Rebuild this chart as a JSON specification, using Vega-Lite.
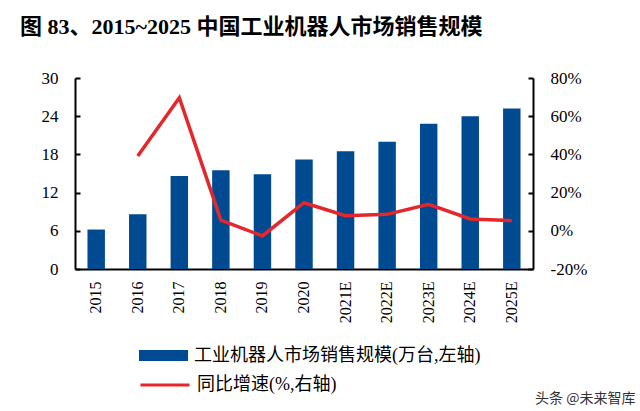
{
  "$schema": "https://vega.github.io/schema/vega-lite/v6.json",
  "autosize": {"type": "none"},
  "width": 458,
  "height": 191,
  "padding": {"left": 75, "top": 78, "right": 107, "bottom": 142},
  "background": "white",
  "title": {
    "text": "图 83、2015~2025 中国工业机器人市场销售规模",
    "anchor": "start",
    "frame": "group",
    "dx": -55,
    "offset": 30,
    "font": "Liberation Serif, Noto Sans CJK SC",
    "fontSize": 22,
    "fontWeight": "bold",
    "color": "#000000"
  },
  "data": {
    "values": [
      {"year": "2015", "sales": 6.2, "growth": null},
      {"year": "2016", "sales": 8.6, "growth": 39.2},
      {"year": "2017", "sales": 14.6, "growth": 69.7},
      {"year": "2018", "sales": 15.5, "growth": 5.6},
      {"year": "2019", "sales": 14.9, "growth": -2.7},
      {"year": "2020", "sales": 17.2, "growth": 14.7},
      {"year": "2021E", "sales": 18.5, "growth": 7.9},
      {"year": "2022E", "sales": 20.0, "growth": 8.6},
      {"year": "2023E", "sales": 22.8, "growth": 13.9},
      {"year": "2024E", "sales": 24.0, "growth": 6.2},
      {"year": "2025E", "sales": 25.2, "growth": 5.3}
    ]
  },
  "encoding": {
    "x": {
      "field": "year",
      "type": "ordinal",
      "sort": null,
      "scale": {"paddingInner": 0.58, "paddingOuter": 0.3},
      "axis": {
        "title": "头条 @未来智库",
        "titleAnchor": "end",
        "titleAlign": "right",
        "titleX": 560,
        "titleY": 122,
        "titleFont": "Noto Sans CJK SC",
        "titleFontSize": 14,
        "titleFontWeight": "normal",
        "titleColor": "#333333",
        "labelAngle": -90,
        "labelAlign": "right",
        "labelBaseline": "middle",
        "ticks": false,
        "labelPadding": 12,
        "domainColor": "#000000",
        "domainWidth": 2,
        "labelFont": "Liberation Serif",
        "labelFontSize": 16,
        "labelColor": "#000000"
      }
    }
  },
  "layer": [
    {
      "mark": {"type": "bar", "color": "#004A92"},
      "encoding": {
        "y": {
          "field": "sales",
          "type": "quantitative",
          "scale": {"domain": [0, 30], "nice": false},
          "axis": {
            "title": null,
            "values": [0, 6, 12, 18, 24, 30],
            "grid": false,
            "tickSize": -5,
            "tickColor": "#000000",
            "tickWidth": 2,
            "labelPadding": 22,
            "domainColor": "#000000",
            "domainWidth": 2,
            "labelFont": "Liberation Serif",
            "labelFontSize": 17,
            "labelColor": "#000000"
          }
        },
        "fill": {
          "datum": "工业机器人市场销售规模(万台,左轴)",
          "type": "nominal",
          "scale": {"range": ["#004A92"]},
          "legend": {
            "title": null,
            "orient": "none",
            "legendX": 64,
            "legendY": 253,
            "symbolType": "M-1,-0.22H1V0.22H-1Z",
            "symbolSize": 2401,
            "symbolStrokeWidth": 0,
            "labelFont": "Liberation Serif, Noto Sans CJK SC",
            "labelFontSize": 18,
            "labelColor": "#000000",
            "labelOffset": 6,
            "labelLimit": 0
          }
        }
      }
    },
    {
      "mark": {"type": "line", "color": "#E5262A", "strokeWidth": 3.5},
      "encoding": {
        "y": {
          "field": "growth",
          "type": "quantitative",
          "scale": {"domain": [-20, 80], "nice": false},
          "axis": {
            "title": null,
            "orient": "right",
            "values": [-20, 0, 20, 40, 60, 80],
            "labelExpr": "datum.value + '%'",
            "grid": false,
            "tickSize": -5,
            "tickColor": "#000000",
            "tickWidth": 2,
            "labelPadding": 22,
            "domainColor": "#000000",
            "domainWidth": 2,
            "labelFont": "Liberation Serif",
            "labelFontSize": 17,
            "labelColor": "#000000"
          }
        },
        "stroke": {
          "datum": "同比增速(%,右轴)",
          "type": "nominal",
          "scale": {"range": ["#E5262A"]},
          "legend": {
            "title": null,
            "orient": "none",
            "legendX": 64,
            "legendY": 281,
            "symbolType": "M-1,0H1",
            "symbolSize": 2401,
            "symbolStrokeWidth": 3,
            "labelFont": "Liberation Serif, Noto Sans CJK SC",
            "labelFontSize": 18,
            "labelColor": "#000000",
            "labelOffset": 6,
            "labelLimit": 0
          }
        }
      }
    }
  ],
  "resolve": {"scale": {"y": "independent", "fill": "independent", "stroke": "independent"}},
  "config": {"view": {"stroke": null}}
}
